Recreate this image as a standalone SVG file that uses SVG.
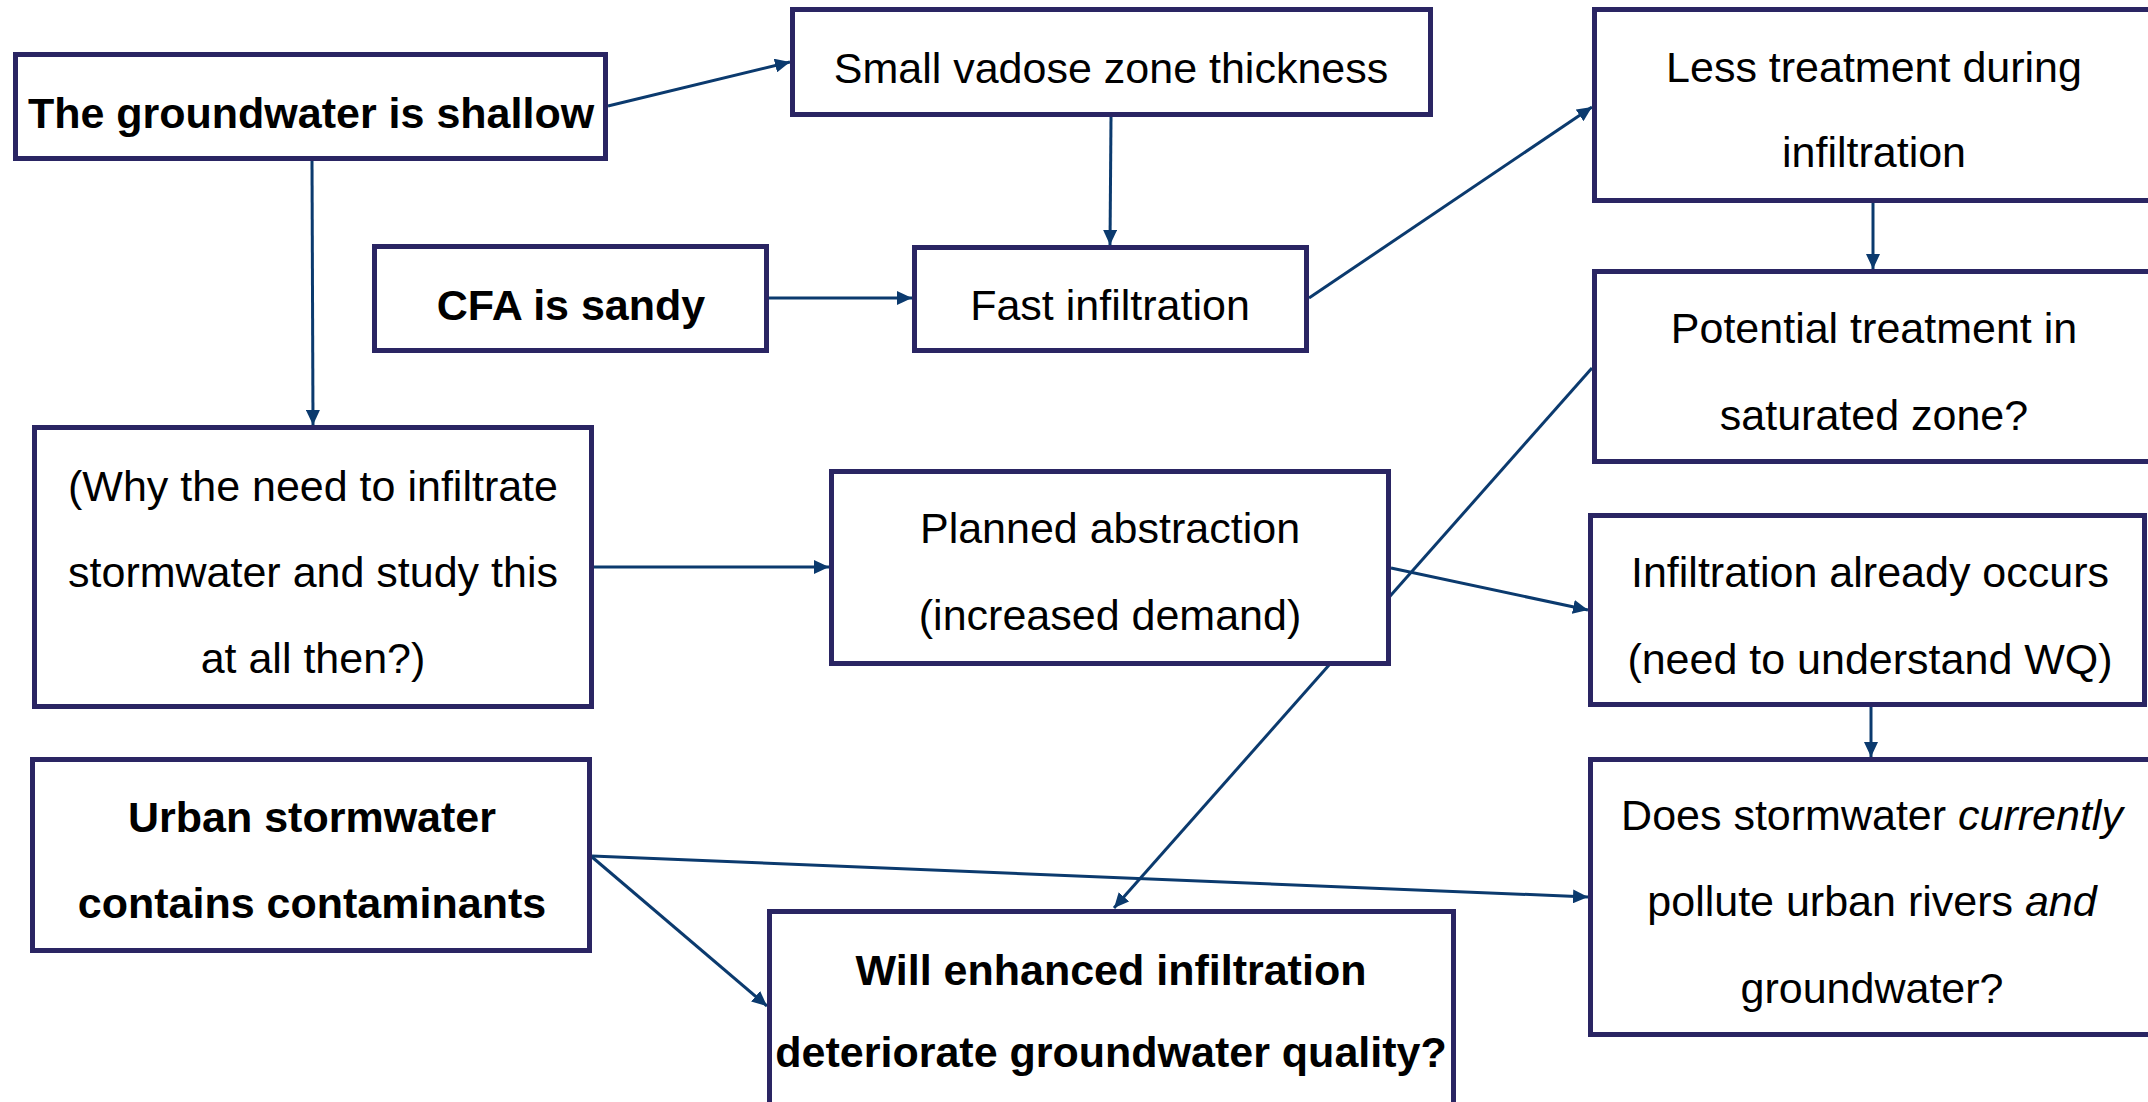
<svg xmlns="http://www.w3.org/2000/svg" width="2148" height="1102" viewBox="0 0 2148 1102">
<style>
.box{fill:#ffffff;stroke:#2a2563;stroke-width:5}
.t{font-family:"Liberation Sans",Arial,sans-serif;font-size:43px;fill:#000000;text-anchor:middle}
.b{font-weight:bold}
.i{font-style:italic}
.c{stroke:#0b3a6e;stroke-width:3;fill:none;marker-end:url(#ah)}
</style>
<defs>
<marker id="ah" markerUnits="userSpaceOnUse" markerWidth="15" markerHeight="14" refX="15" refY="7" orient="auto">
<path d="M0,0 L15,7 L0,14 Z" fill="#0b3a6e"/>
</marker>
</defs>
<rect width="2148" height="1102" fill="#ffffff"/>
<g id="connectors">
<line class="c" x1="608" y1="106" x2="790" y2="62"/>
<line class="c" x1="312" y1="161" x2="313" y2="425"/>
<line class="c" x1="1111" y1="117" x2="1110" y2="245"/>
<line class="c" x1="769" y1="298" x2="912" y2="298"/>
<line class="c" x1="1309" y1="298" x2="1592" y2="107"/>
<line class="c" x1="1873" y1="203" x2="1873" y2="269"/>
<line class="c" x1="594" y1="567" x2="829" y2="567"/>
<line class="c" x1="1391" y1="568" x2="1588" y2="610"/>
<line class="c" x1="1592" y1="368" x2="1114" y2="908"/>
<line class="c" x1="1871" y1="707" x2="1871" y2="757"/>
<line class="c" x1="592" y1="856" x2="1588" y2="897"/>
<line class="c" x1="592" y1="857" x2="767" y2="1006"/>
</g>
<g id="shallow">
<rect class="box" x="15.5" y="54.5" width="590" height="104"/>
<text class="t b" x="311" y="128">The groundwater is shallow</text>
</g>
<g id="vadose">
<rect class="box" x="792.5" y="9.5" width="638" height="105"/>
<text class="t" x="1111" y="83">Small vadose zone thickness</text>
</g>
<g id="less-treatment">
<rect class="box" x="1594.5" y="9.5" width="570" height="191"/>
<text class="t" x="1874" y="82">Less treatment during</text>
<text class="t" x="1874" y="167">infiltration</text>
</g>
<g id="cfa">
<rect class="box" x="374.5" y="246.5" width="392" height="104"/>
<text class="t b" x="571" y="320">CFA is sandy</text>
</g>
<g id="fast">
<rect class="box" x="914.5" y="247.5" width="392" height="103"/>
<text class="t" x="1110" y="320">Fast infiltration</text>
</g>
<g id="potential">
<rect class="box" x="1594.5" y="271.5" width="570" height="190"/>
<text class="t" x="1874" y="343">Potential treatment in</text>
<text class="t" x="1874" y="430">saturated zone?</text>
</g>
<g id="why">
<rect class="box" x="34.5" y="427.5" width="557" height="279"/>
<text class="t" x="313" y="501">(Why the need to infiltrate</text>
<text class="t" x="313" y="587">stormwater and study this</text>
<text class="t" x="313" y="673">at all then?)</text>
</g>
<g id="planned">
<rect class="box" x="831.5" y="471.5" width="557" height="192"/>
<text class="t" x="1110" y="543">Planned abstraction</text>
<text class="t" x="1110" y="630">(increased demand)</text>
</g>
<g id="already">
<rect class="box" x="1590.5" y="515.5" width="554" height="189"/>
<text class="t" x="1870" y="587">Infiltration already occurs</text>
<text class="t" x="1870" y="674">(need to understand WQ)</text>
</g>
<g id="urban">
<rect class="box" x="32.5" y="759.5" width="557" height="191"/>
<text class="t b" x="312" y="832">Urban stormwater</text>
<text class="t b" x="312" y="918">contains contaminants</text>
</g>
<g id="does">
<rect class="box" x="1590.5" y="759.5" width="570" height="275"/>
<text class="t" x="1872" y="830">Does stormwater <tspan class="i">currently</tspan></text>
<text class="t" x="1872" y="916">pollute urban rivers <tspan class="i">and</tspan></text>
<text class="t" x="1872" y="1003">groundwater?</text>
</g>
<g id="will">
<rect class="box" x="769.5" y="911.5" width="684" height="220"/>
<text class="t b" x="1111" y="985">Will enhanced infiltration</text>
<text class="t b" x="1111" y="1067">deteriorate groundwater quality?</text>
</g>
</svg>
